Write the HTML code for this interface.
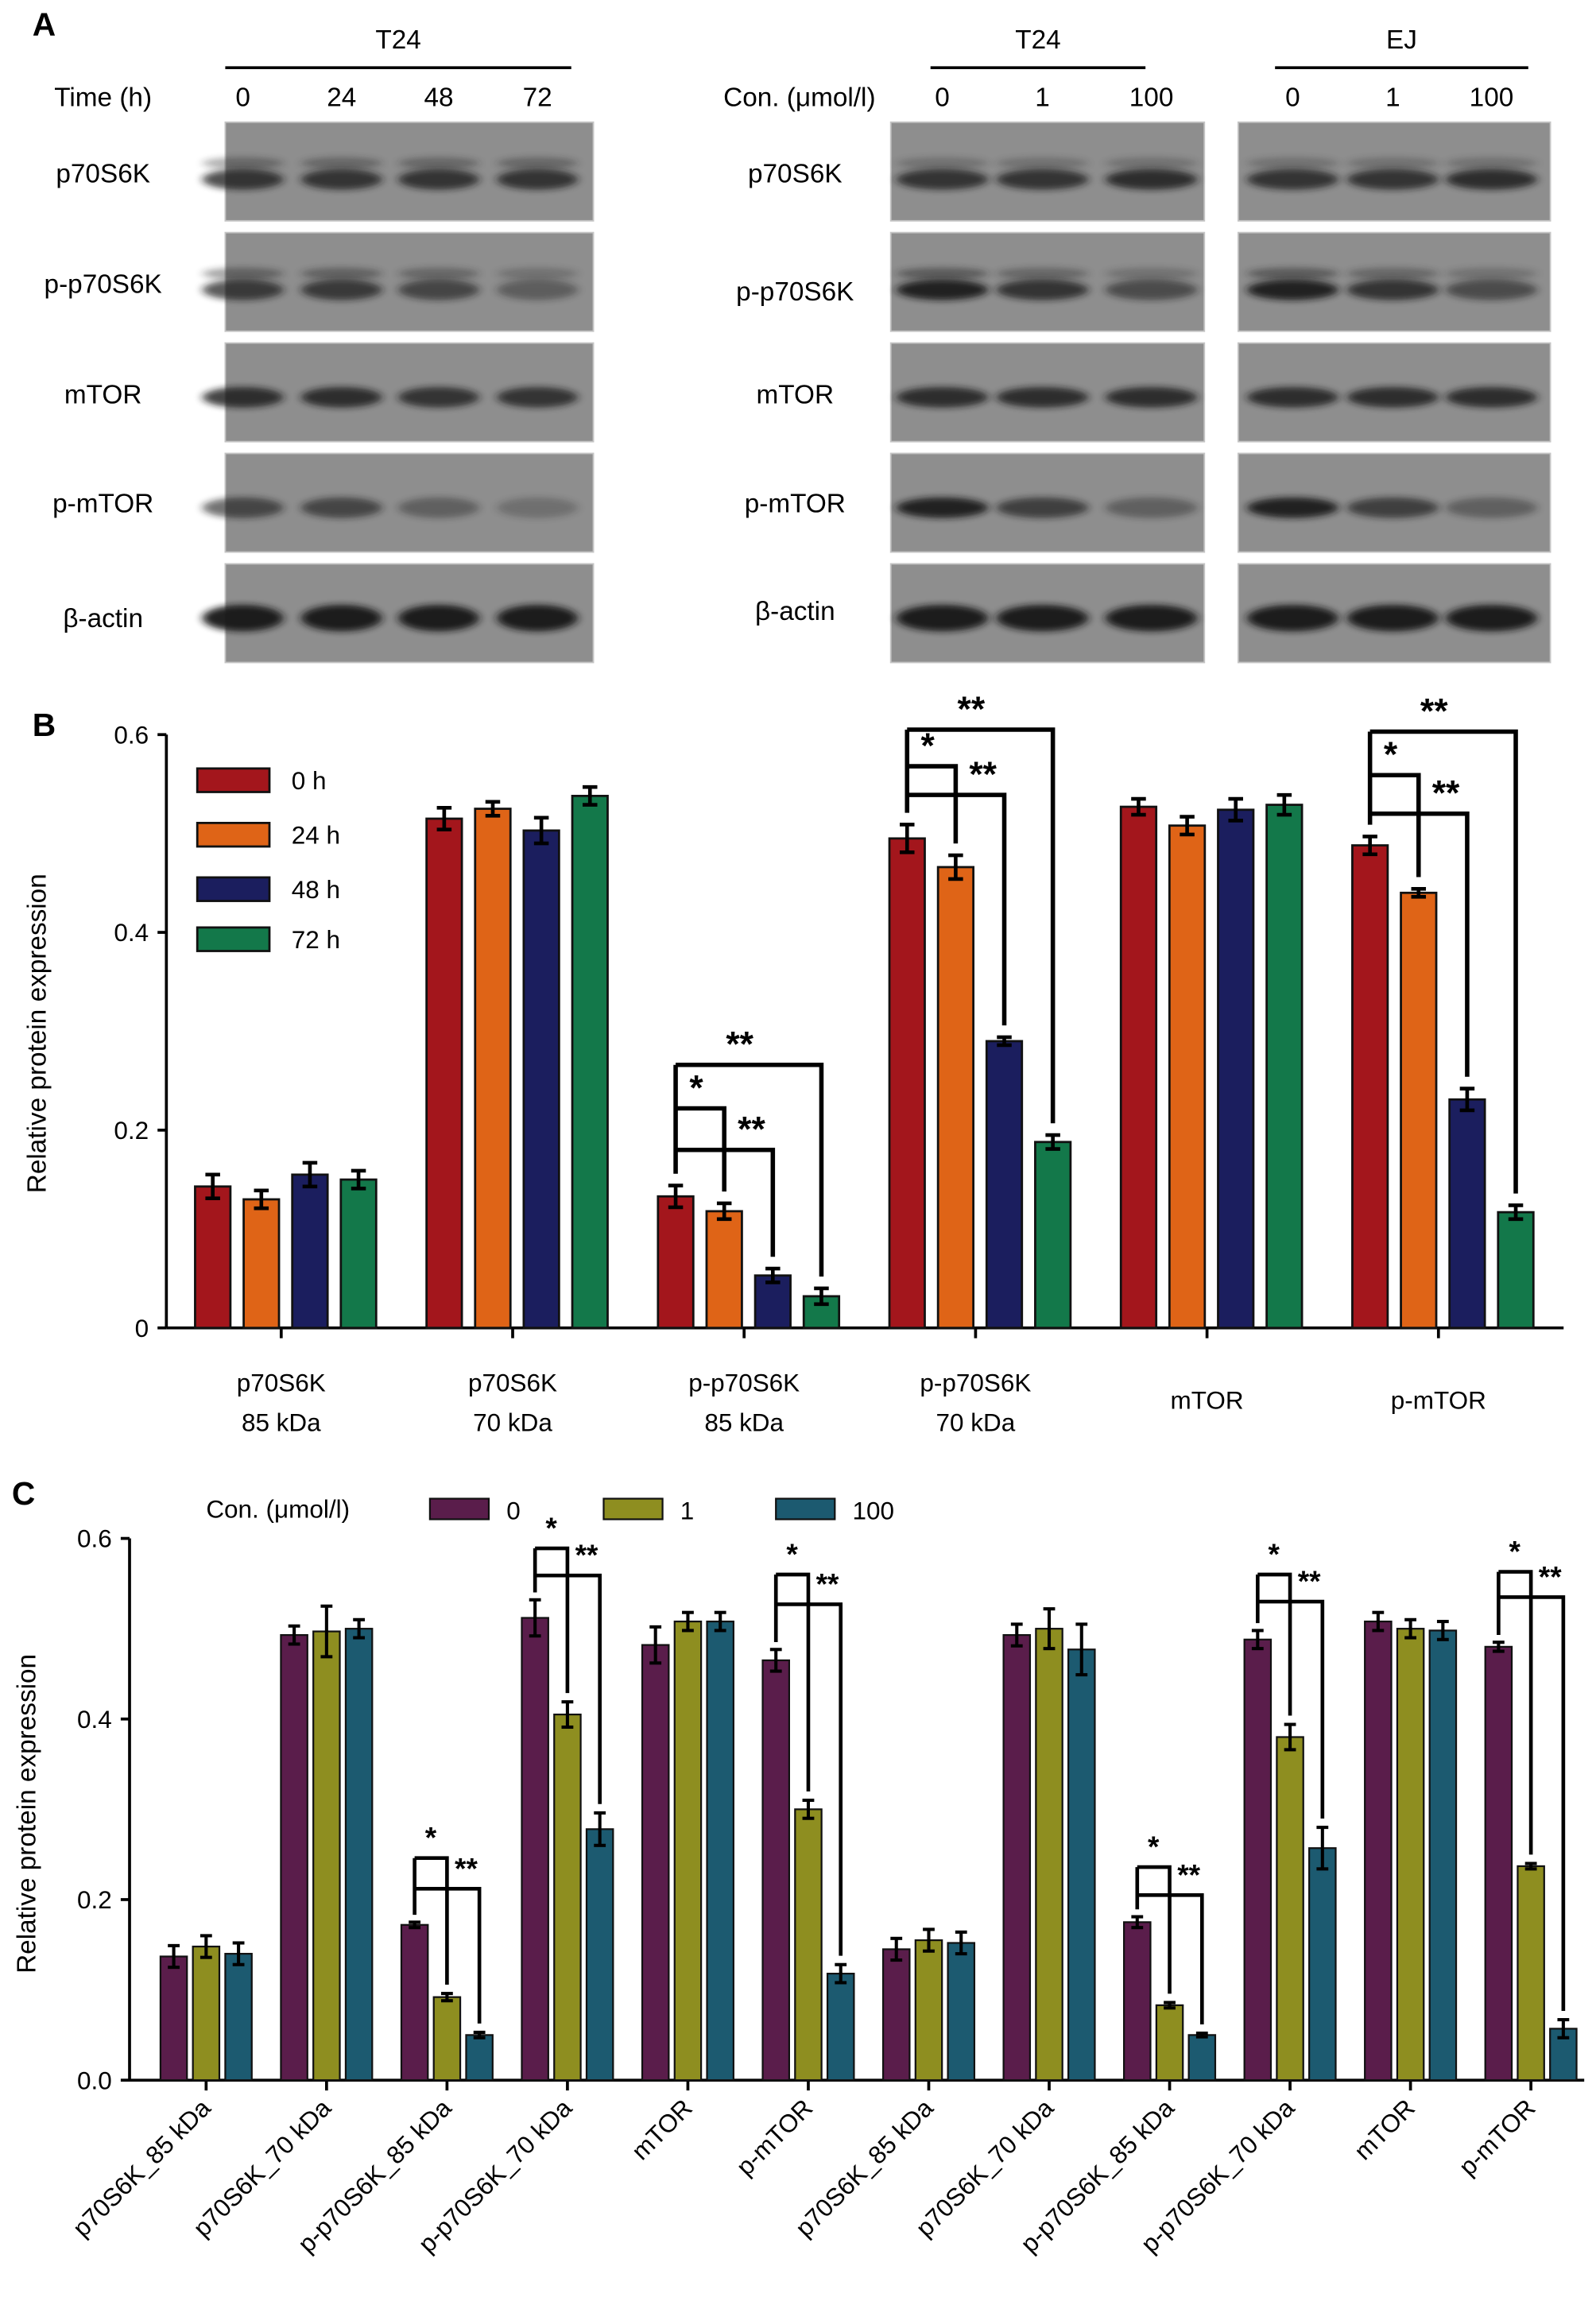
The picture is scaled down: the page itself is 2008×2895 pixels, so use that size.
<!DOCTYPE html>
<html><head><meta charset="utf-8"><style>
html,body{margin:0;padding:0;background:#fff}
svg{display:block;font-family:"Liberation Sans",Arial,sans-serif}
</style></head><body>
<svg id="fig" xmlns="http://www.w3.org/2000/svg" width="2008" height="2895" viewBox="0 0 1084 1563" preserveAspectRatio="none">
<defs>
<filter id="blur" x="-30%" y="-100%" width="160%" height="300%"><feGaussianBlur stdDeviation="3 2.2"/></filter>
</defs>
<g id="panelA"></g>
<g id="panelB"></g>
<g id="panelC"></g>
</svg>
<script>
const NS="http://www.w3.org/2000/svg";
function mk(tag,attrs,parent,txt){const e=document.createElementNS(NS,tag);for(const k in attrs)e.setAttribute(k,attrs[k]);if(txt!==undefined)e.textContent=txt;parent.appendChild(e);return e;}

// ---------- Chart B data ----------
const bCategories=[["p70S6K","85 kDa"],["p70S6K","70 kDa"],["p-p70S6K","85 kDa"],["p-p70S6K","70 kDa"],["mTOR",""],["p-mTOR",""]];
const bSeriesNames=["0 h","24 h","48 h","72 h"];
const bValues0h=[0.143,0.515,0.133,0.495,0.527,0.488];
const bValues24h=[0.130,0.525,0.118,0.466,0.508,0.440];
const bValues48h=[0.155,0.503,0.053,0.290,0.524,0.231];
const bValues72h=[0.150,0.538,0.032,0.188,0.529,0.117];
const bErrors0h=[0.012,0.011,0.011,0.014,0.008,0.009];
const bErrors24h=[0.009,0.007,0.008,0.012,0.009,0.004];
const bErrors48h=[0.012,0.013,0.007,0.004,0.011,0.011];
const bErrors72h=[0.009,0.009,0.008,0.007,0.010,0.007];
const bTicks=[0,0.2,0.4,0.6];
const bTickLabels=["0","0.2","0.4","0.6"];
const bSigGroups=[2,3,5];
const bSigOuter=[0.266,0.605,0.603];
const bSigStar=[0.222,0.568,0.559];
const bSigInner=[0.180,0.539,0.520];

// ---------- Chart C data ----------
const cCategories=["p70S6K_85 kDa","p70S6K_70 kDa","p-p70S6K_85 kDa","p-p70S6K_70 kDa","mTOR","p-mTOR","p70S6K_85 kDa","p70S6K_70 kDa","p-p70S6K_85 kDa","p-p70S6K_70 kDa","mTOR","p-mTOR"];
const cSeriesNames=["0","1","100"];
const cValues0=[0.137,0.493,0.172,0.512,0.482,0.465,0.145,0.493,0.175,0.488,0.508,0.480];
const cValues1=[0.148,0.497,0.092,0.405,0.508,0.300,0.155,0.500,0.083,0.380,0.500,0.237];
const cValues100=[0.140,0.500,0.050,0.278,0.508,0.118,0.152,0.477,0.050,0.257,0.498,0.057];
const cErrors0=[0.012,0.010,0.003,0.020,0.020,0.012,0.012,0.012,0.006,0.010,0.010,0.005];
const cErrors1=[0.012,0.028,0.004,0.014,0.010,0.010,0.012,0.022,0.003,0.014,0.010,0.003];
const cErrors100=[0.012,0.010,0.003,0.018,0.010,0.010,0.012,0.028,0.002,0.023,0.010,0.010];
const cTicks=[0,0.2,0.4,0.6];
const cTickLabels=["0.0","0.2","0.4","0.6"];
const cSigGroups=[2,3,5,8,9,11];
const cSigStar=[0.246,0.589,0.560,0.236,0.560,0.563];
const cSigDouble=[0.212,0.559,0.527,0.205,0.530,0.535];

// ---------- Panel A ----------
const A=document.getElementById('panelA');
let t;
t=mk('text',{x:22,y:24,'font-size':22,'font-weight':'bold'},A,'A');

function header(x1,x2,label){
  mk('line',{x1:x1,x2:x2,y1:46,y2:46,stroke:'#000','stroke-width':2},A);
  const tt=mk('text',{x:(x1+x2)/2,y:33,'font-size':18,'text-anchor':'middle'},A,label);
  
}
header(153,388,'T24');header(632,778,'T24');header(866,1038,'EJ');
t=mk('text',{x:70,y:72,'font-size':18,'text-anchor':'middle'},A,'Time (h)');

t=mk('text',{x:543,y:72,'font-size':18,'text-anchor':'middle'},A,'Con. (μmol/l)');

const lanesL=[165,232,298,365],lanesT=[640,708,782],lanesE=[878,946,1013];
["0","24","48","72"].forEach((s,i)=>mk('text',{x:lanesL[i],y:72,'font-size':18,'text-anchor':'middle'},A,s));
["0","1","100"].forEach((s,i)=>{mk('text',{x:lanesT[i],y:72,'font-size':18,'text-anchor':'middle'},A,s);mk('text',{x:lanesE[i],y:72,'font-size':18,'text-anchor':'middle'},A,s);});
const rowsY=[83,158,233,308,383],rowH=67;
const rowNames=["p70S6K","p-p70S6K","mTOR","p-mTOR","β-actin"];
const lblYL=[118,193,268,342,420],lblYR=[118,198,268,342,415];
rowNames.forEach((n,i)=>{
  mk('text',{x:70,y:lblYL[i]+6,'font-size':18,'text-anchor':'middle'},A,n);
  mk('text',{x:540,y:lblYR[i]+6,'font-size':18,'text-anchor':'middle'},A,n);
});
const leftBands=[[[.35,.75],[.35,.75],[.35,.75],[.35,.75]],[[.4,.7],[.4,.7],[.35,.6],[.25,.4]],[[0,.8],[0,.8],[0,.75],[0,.75]],[[0,.6],[0,.6],[0,.38],[0,.25]],[[0,.95],[0,.95],[0,.95],[0,.95]]];
const rightBands=[[[.25,.75],[.25,.75],[.25,.8]],[[.45,.9],[.35,.75],[.25,.55]],[[0,.8],[0,.8],[0,.8]],[[0,.9],[0,.65],[0,.38]],[[0,.95],[0,.95],[0,.95]]];
function blot(x1,x2,lanes,bands,name){
  rowsY.forEach((y,r)=>{
    const g=mk('g',{},A);
    
    mk('rect',{x:x1,y:y,width:x2-x1,height:rowH,fill:'#8e8e8e',stroke:'#c4c4c4','stroke-width':1},g);
    const lw=(x2-x1)/lanes.length*0.44;
    lanes.forEach((cx,l)=>{
      const [u,lo]=bands[r][l];const cy=y+rowH*0.55;
      if(u>0)mk('ellipse',{cx:cx,cy:cy-9,rx:lw,ry:4,fill:'#1a1a1a',opacity:u,filter:'url(#blur)'},g);
      mk('ellipse',{cx:cx,cy:u>0?cy+2:cy,rx:lw,ry:r==4?9:7,fill:'#151515',opacity:lo,filter:'url(#blur)'},g);
    });
  });
}
blot(153,403,lanesL,leftBands,'blot-t24-time');
blot(605,818,lanesT,rightBands,'blot-t24-conc');
blot(841,1053,lanesE,rightBands,'blot-ej-conc');

// ---------- Panel B ----------
const B=document.getElementById('panelB');
t=mk('text',{x:22,y:500,'font-size':22,'font-weight':'bold'},B,'B');

const bX0=113,bXEnd=1062,bY0=902,bYTop=499;
const byScale=v=>bY0-(v/0.6)*(bY0-bYTop);
const bGroupX=i=>194+i*157.2;
const bBarPitch=33,bBarW=24;
const bColors=["#a3161c","#df6417","#1b1e5e","#13784a"];
const bVals=[bValues0h,bValues24h,bValues48h,bValues72h];
const bErrs=[bErrors0h,bErrors24h,bErrors48h,bErrors72h];
mk('line',{x1:bX0,x2:bX0,y1:bYTop,y2:bY0,stroke:'#000','stroke-width':2},B);
mk('line',{x1:bX0,x2:bXEnd,y1:bY0,y2:bY0,stroke:'#000','stroke-width':2},B);
bTicks.forEach((v,i)=>{const y=byScale(v);mk('line',{x1:bX0-6,x2:bX0,y1:y,y2:y,stroke:'#000','stroke-width':2},B);
 const tl=mk('text',{x:bX0-12,y:y+6,'font-size':17,'text-anchor':'end'},B,bTickLabels[i]);
 });
t=mk('text',{x:0,y:0,'font-size':18,'text-anchor':'middle',transform:'translate(31,702) rotate(-90)'},B,'Relative protein expression');

const bBarX=(g,s)=>bGroupX(g)+(s-1.5)*bBarPitch;
bCategories.forEach((c,g)=>{
  const cx=bGroupX(g)-3;
  mk('line',{x1:cx,x2:cx,y1:bY0,y2:bY0+7,stroke:'#000','stroke-width':2},B);
  const tl=mk('text',{x:cx,y:c[1]?945:957,'font-size':17,'text-anchor':'middle'},B,c[0]);
  
  if(c[1])mk('text',{x:cx,y:972,'font-size':17,'text-anchor':'middle'},B,c[1]);
  bVals.forEach((arr,s)=>{
    const x=bBarX(g,s),y=byScale(arr[g]);
    const r=mk('rect',{x:x-bBarW/2,y:y,width:bBarW,height:bY0-y,fill:bColors[s],stroke:'#111','stroke-width':1.5},B);
    
    const e=bErrs[s][g],y1=byScale(arr[g]+e),y2=byScale(arr[g]-e);
    mk('line',{x1:x,x2:x,y1:y1,y2:y2,stroke:'#000','stroke-width':2.5},B);
    mk('line',{x1:x-5,x2:x+5,y1:y1,y2:y1,stroke:'#000','stroke-width':2.5},B);
    mk('line',{x1:x-5,x2:x+5,y1:y2,y2:y2,stroke:'#000','stroke-width':2.5},B);
  });
});
bSigGroups.forEach((g,k)=>{
  const x0=bBarX(g,0);
  const base=byScale(bValues0h[g]+bErrors0h[g]);
  const top=byScale(bSigOuter[k]);
  mk('line',{x1:x0,x2:x0,y1:base-8,y2:top,stroke:'#000','stroke-width':3},B);
  const levels=[{s:3,v:bSigOuter[k],lab:'**'},{s:1,v:bSigStar[k],lab:'*'},{s:2,v:bSigInner[k],lab:'**'}];
  levels.forEach(L=>{
    const y=byScale(L.v),xs=bBarX(g,L.s),ty=byScale(bVals[L.s][g]+bErrs[L.s][g])-8;
    mk('polyline',{points:`${x0},${y} ${xs},${y} ${xs},${ty}`,fill:'none',stroke:'#000','stroke-width':3},B);
    let tx=L.s==3?(x0+xs)/2-6:(L.s==1?x0+14:(bBarX(g,1)+bBarX(g,2))/2+2);
    const st=mk('text',{x:tx,y:y-6,'font-size':24,'font-weight':'bold','text-anchor':'middle'},B,L.lab);
    
  });
});
const bLegY=[530,567,604,638];
bSeriesNames.forEach((n,i)=>{
  const lg=mk('g',{},B);
  mk('rect',{x:134,y:bLegY[i]-8,width:49,height:16,fill:bColors[i],stroke:'#111','stroke-width':1.5},lg);
  mk('text',{x:198,y:bLegY[i]+6,'font-size':17},lg,n);
});

// ---------- Panel C ----------
const C=document.getElementById('panelC');
t=mk('text',{x:8,y:1022,'font-size':22,'font-weight':'bold'},C,'C');

const cX0=88,cXEnd=1076,cY0=1413,cYTop=1045;
const cyScale=v=>cY0-(v/0.6)*(cY0-cYTop);
const cGroupX=i=>140+i*81.8;
const cPitch=22,cW=18;
const cColors=["#5a1d4b","#8e8e20","#1c5a70"];
const cVals=[cValues0,cValues1,cValues100];
const cErrs=[cErrors0,cErrors1,cErrors100];
mk('line',{x1:cX0,x2:cX0,y1:cYTop,y2:cY0,stroke:'#000','stroke-width':2},C);
mk('line',{x1:cX0,x2:cXEnd,y1:cY0,y2:cY0,stroke:'#000','stroke-width':2},C);
cTicks.forEach((v,i)=>{const y=cyScale(v);mk('line',{x1:cX0-6,x2:cX0,y1:y,y2:y,stroke:'#000','stroke-width':2},C);
 const tl=mk('text',{x:cX0-12,y:y+6,'font-size':17,'text-anchor':'end'},C,cTickLabels[i]);
 });
t=mk('text',{x:0,y:0,'font-size':18,'text-anchor':'middle',transform:'translate(24,1232) rotate(-90)'},C,'Relative protein expression');

const cBarX=(g,s)=>cGroupX(g)+(s-1)*cPitch;
cCategories.forEach((c,g)=>{
  const cx=cGroupX(g);
  mk('line',{x1:cx,x2:cx,y1:cY0,y2:cY0+7,stroke:'#000','stroke-width':2},C);
  const tl=mk('text',{x:0,y:0,'font-size':17,'text-anchor':'end',transform:`translate(${cx+4},${cY0+20}) rotate(-45)`},C,c);
  
  cVals.forEach((arr,s)=>{
    const x=cBarX(g,s),y=cyScale(arr[g]);
    const r=mk('rect',{x:x-cW/2,y:y,width:cW,height:cY0-y,fill:cColors[s],stroke:'#111','stroke-width':1.2},C);
    
    const e=cErrs[s][g],y1=cyScale(arr[g]+e),y2=cyScale(arr[g]-e);
    mk('line',{x1:x,x2:x,y1:y1,y2:y2,stroke:'#000','stroke-width':2.2},C);
    mk('line',{x1:x-4,x2:x+4,y1:y1,y2:y1,stroke:'#000','stroke-width':2.2},C);
    mk('line',{x1:x-4,x2:x+4,y1:y2,y2:y2,stroke:'#000','stroke-width':2.2},C);
  });
});
cSigGroups.forEach((g,k)=>{
  const x0=cBarX(g,0);
  const base=cyScale(cValues0[g]+cErrors0[g]);
  mk('line',{x1:x0,x2:x0,y1:base-5,y2:cyScale(cSigStar[k]),stroke:'#000','stroke-width':2.5},C);
  const levels=[{s:1,v:cSigStar[k],lab:'*'},{s:2,v:cSigDouble[k],lab:'**'}];
  levels.forEach(L=>{
    const y=cyScale(L.v),xs=cBarX(g,L.s),ty=cyScale(cVals[L.s][g]+cErrs[L.s][g])-6;
    mk('polyline',{points:`${x0},${y} ${xs},${y} ${xs},${ty}`,fill:'none',stroke:'#000','stroke-width':2.5},C);
    const tx=L.s==1?(x0+xs)/2:(cBarX(g,1)+cBarX(g,2))/2+2;
    const st=mk('text',{x:tx,y:y-7,'font-size':20,'font-weight':'bold','text-anchor':'middle'},C,L.lab);
    
  });
});
t=mk('text',{x:140,y:1031,'font-size':17},C,'Con. (μmol/l)');

const cLegX=[292,410,527];
cSeriesNames.forEach((n,i)=>{
  const lg=mk('g',{},C);
  mk('rect',{x:cLegX[i],y:1018,width:40,height:14,fill:cColors[i],stroke:'#111','stroke-width':1.2},lg);
  mk('text',{x:cLegX[i]+52,y:1032,'font-size':17},lg,n);
});
</script>
</body></html>
